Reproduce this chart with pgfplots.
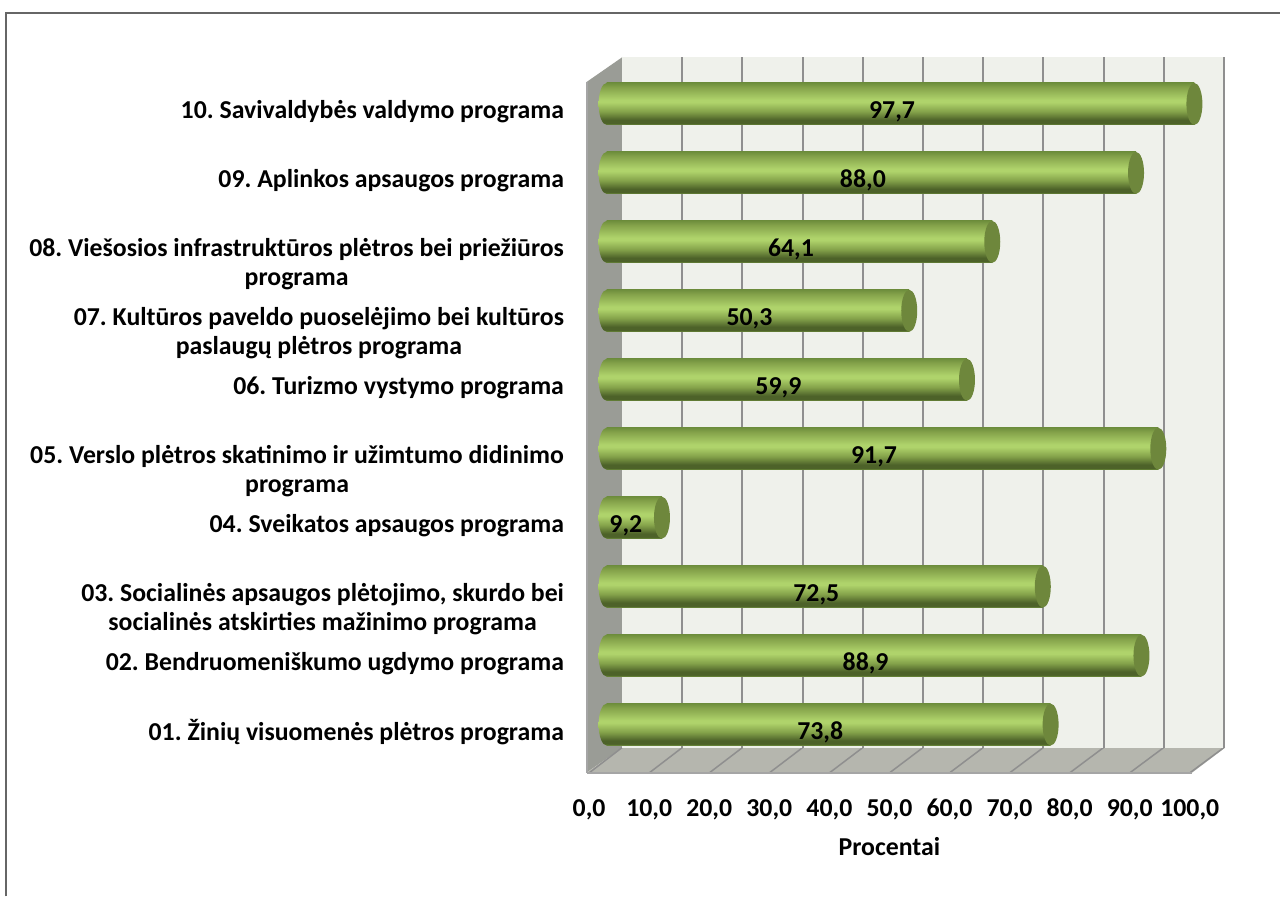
\documentclass[border=0pt]{standalone}
\usepackage{pgfplots}
\usepackage{pgfplotstable}
\pgfplotsset{compat=1.18}
\usepackage{fontspec}
\setmainfont{Carlito}
\definecolor{wallback}{HTML}{EFF1EB}
\definecolor{wallleft}{HTML}{9A9C96}
\definecolor{wallfloor}{HTML}{B5B6AE}
\definecolor{gridc}{HTML}{8F8F8F}
\definecolor{capc}{HTML}{6E873C}
\definecolor{cyl1}{HTML}{6F8F3D}
\definecolor{cyl2}{HTML}{4D6229}
\definecolor{cyl3}{HTML}{84A24A}
\definecolor{cyl4}{HTML}{AFD36B}
\newlength{\px}\setlength{\px}{0.75pt}
\pgfdeclareverticalshading{cyl}{100bp}{
 color(0bp)=(cyl1);
 color(25bp)=(cyl1);
 color(27bp)=(cyl2);
 color(31bp)=(cyl2);
 color(41bp)=(cyl3);
 color(52bp)=(cyl4);
 color(55bp)=(cyl4);
 color(70bp)=(cyl3);
 color(75bp)=(cyl1);
 color(100bp)=(cyl1)
}
\pgfdeclareplotmark{capleft}{%
 \pgfpathellipse{\pgfpointorigin}{\pgfpoint{8\px}{0pt}}{\pgfpoint{0pt}{21\px}}%
 \pgfshadepath{cyl}{0}\pgfusepath{discard}}
\pgfdeclareplotmark{capright}{%
 \pgfpathellipse{\pgfpointorigin}{\pgfpoint{8\px}{0pt}}{\pgfpoint{0pt}{21\px}}%
 \pgfsetfillcolor{capc}\pgfusepath{fill}}
\pgfplotstableread{
idx v
1 73.8
2 88.9
3 72.5
4 9.2
5 91.7
6 59.9
7 50.3
8 64.1
9 88.0
10 97.7
}\datatable
\newcommand{\chartfont}{\fontsize{25.8\px}{29\px}\selectfont\bfseries\frenchspacing}
\begin{document}
\begin{tikzpicture}[x=\px,y=-\px]
\path[fill=white] (0,0) rectangle (1281,897);
\draw[gray!80!black,line width=1.6\px] (6,897) -- (6,13) -- (1281,13);
% left wall and floor
\fill[wallleft] (587,773) -- (623,748) -- (623,57) -- (587,82) -- cycle;
\fill[wallfloor] (587,773) -- (1193,773) -- (1226,748) -- (623,748) -- cycle;
\foreach \i in {0,...,10}{\draw[gridc,line width=1.5\px] ({590+60.1*\i},773) -- ({622.5+60.22*\i},748);}
\draw[gridc!80!white,line width=2\px] (587,773) -- (1193,773);
\draw[gridc!80!white,line width=2\px] (587,773) -- (587,82);
\coordinate (backwall) at (622.5,748);
\coordinate (front) at (589.5,773);
\coordinate (bars) at (607,725);
% back wall axis
\begin{axis}[at={(backwall)},anchor=south west,scale only axis,width=602.2\px,height=691\px,
 xmin=0,xmax=100,ymin=0,ymax=1,
 axis line style={draw=none},axis background/.style={fill=wallback},
 xtick={10,20,...,100},ytick=\empty,xticklabels={},major tick length=0pt,
 xmajorgrids,grid style={gridc,line width=2\px}]
\end{axis}
% front tick labels
\begin{axis}[at={(front)},anchor=south west,scale only axis,width=601\px,height=10\px,
 xmin=0,xmax=100,ymin=0,ymax=1,
 axis line style={draw=none},
 xtick={0,10,...,100},ytick=\empty,major tick length=0pt,
 typeset ticklabels with strut,
 tick label style={font=\chartfont},
 xticklabel style={yshift=-19\px},
 /pgf/number format/.cd,assume math mode=true,use comma,fixed,fixed zerofill,precision=1,
 /pgfplots/.cd,
 xlabel={Procentai},
 xlabel style={at={(0.5,0)},anchor=center,yshift=-74\px,font=\chartfont}]
\end{axis}
% bars
\begin{axis}[at={(bars)},anchor=south west,scale only axis,width=602\px,height=621\px,
 xmin=0,xmax=100,ymin=1,ymax=10,clip=false,
 axis line style={draw=none},major tick length=0pt,
 xtick=\empty,ytick={1,...,10},
 typeset ticklabels with strut,
 yticklabels={{01. Žinių visuomenės plėtros programa},
 {02. Bendruomeniškumo ugdymo programa},
 {03. Socialinės apsaugos plėtojimo, skurdo bei\\socialinės atskirties mažinimo programa},
 {04. Sveikatos apsaugos programa},
 {05. Verslo plėtros skatinimo ir užimtumo didinimo\\programa},
 {06. Turizmo vystymo programa},
 {07. Kultūros paveldo puoselėjimo bei kultūros\\paslaugų plėtros programa},
 {08. Viešosios infrastruktūros plėtros bei priežiūros\\programa},
 {09. Aplinkos apsaugos programa},
 {10. Savivaldybės valdymo programa}},
 yticklabel style={font=\chartfont,align=center,anchor=north east,xshift=-38\px,yshift=10\px},
 xbar,bar width=42\px]
\pgfplotsinvokeforeach{1,...,10}{
\addplot[xbar,bar shift=0pt,draw=none,shading=cyl,forget plot,restrict y to domain=#1:#1] table[x=v,y=idx] {\datatable};
}
\addplot[only marks,mark=capleft,forget plot] table[x expr=0,y=idx] {\datatable};
\addplot[only marks,mark=capright,forget plot] table[x=v,y=idx] {\datatable};
\addplot[only marks,mark=none,forget plot,point meta=explicit,
 nodes near coords,
 every node near coord/.append style={anchor=center,yshift=-30\px,text=black,
   font=\chartfont,
   /pgf/number format/assume math mode=true,/pgf/number format/use comma,/pgf/number format/fixed,/pgf/number format/fixed zerofill,/pgf/number format/precision=1}]
 table[x expr=\thisrow{v}/2-1.4,y=idx,meta=v] {\datatable};
\end{axis}
\end{tikzpicture}
\end{document}
